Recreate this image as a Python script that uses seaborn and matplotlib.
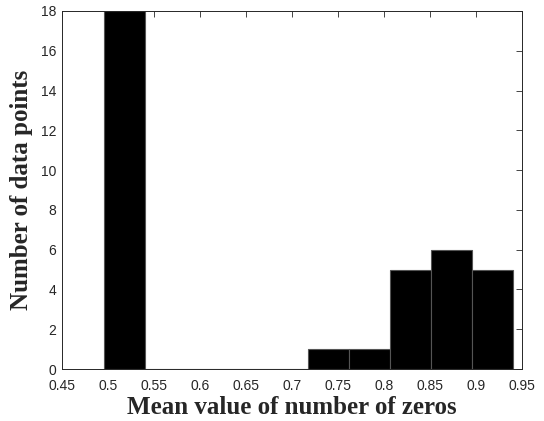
import matplotlib
matplotlib.use("Agg")
import matplotlib.pyplot as plt
import seaborn as sns
import numpy as np

# Histogram data
bin_start = 0.4952
bin_width = 0.04449
counts = [18, 0, 0, 0, 0, 1, 1, 5, 6, 5]
x_ticks = [0.45, 0.5, 0.55, 0.6, 0.65, 0.7, 0.75, 0.8, 0.85, 0.9, 0.95]
x_tick_labels = ["0.45", "0.5", "0.55", "0.6", "0.65", "0.7", "0.75", "0.8", "0.85", "0.9", "0.95"]
y_ticks = [0, 2, 4, 6, 8, 10, 12, 14, 16, 18]
x_label = "Mean value of number of zeros"
y_label = "Number of data points"

edges = [bin_start + i * bin_width for i in range(len(counts) + 1)]
centers = [bin_start + (i + 0.5) * bin_width for i in range(len(counts))]

sns.set_theme(style="white")
plt.rcParams["font.family"] = ["Liberation Sans", "DejaVu Sans"]

fig = plt.figure(figsize=(5.44, 4.21), dpi=100)
ax = fig.add_axes([0.114, 0.1235, 0.8456, 0.8505])

sns.histplot(x=centers, weights=counts, bins=edges, ax=ax,
             color="black", alpha=1.0, edgecolor="#555555", linewidth=0.8)

ax.set_xlim(0.45, 0.95)
ax.set_ylim(0, 18)
ax.set_xticks(x_ticks)
ax.set_xticklabels(x_tick_labels)
ax.set_yticks(y_ticks)
ax.tick_params(axis="both", which="both", direction="in", length=4, width=0.6,
               top=True, right=True, labelsize=10, colors="#262626")
ax.tick_params(axis="x", pad=7)
ax.tick_params(axis="y", pad=4)
for s in ax.spines.values():
    s.set_visible(True)
    s.set_color("#262626")
    s.set_linewidth(0.7)

ax.set_xlabel(x_label, fontfamily="Liberation Serif", fontweight="bold",
              fontsize=18, color="#262626", labelpad=2)
ax.set_ylabel(y_label, fontfamily="Liberation Serif", fontweight="bold",
              fontsize=18, color="#262626", labelpad=6)

fig.savefig("out.png", dpi=100)
